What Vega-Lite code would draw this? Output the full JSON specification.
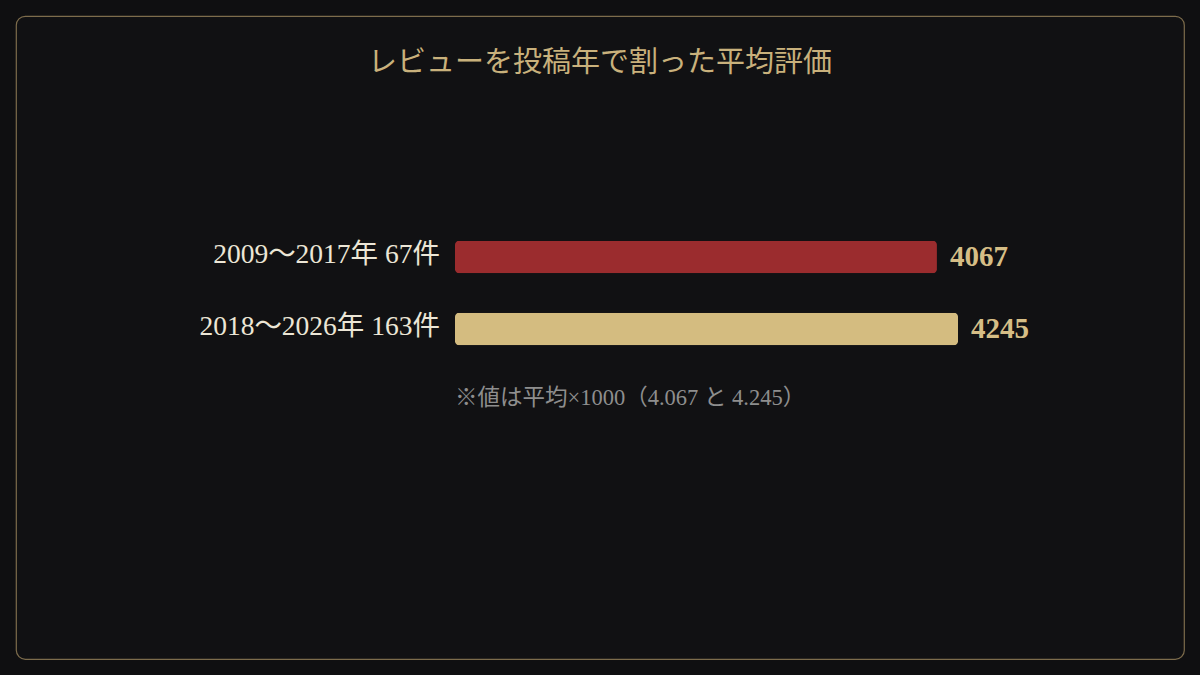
{
  "$schema": "https://vega.github.io/schema/vega-lite/v6.json",
  "autosize": "none",
  "padding": 16,
  "width": 1168,
  "height": 643,
  "background": "#0f0f11",
  "config": {
    "view": {"stroke": "#7d6c4c", "strokeWidth": 1.2, "cornerRadius": 9, "fill": "#111113"},
    "text": {"font": "Liberation Serif, Noto Sans CJK JP"}
  },
  "title": {
    "text": "レビューを投稿年で割った平均評価",
    "anchor": "middle",
    "orient": "top",
    "offset": -62,
    "font": "Liberation Serif, Noto Sans CJK JP",
    "fontSize": 29,
    "fontWeight": "normal",
    "color": "#c9b17c"
  },
  "data": {
    "values": [
      {"period": "2009～2017年 67件", "value": 4067},
      {"period": "2018～2026年 163件", "value": 4245}
    ]
  },
  "encoding": {
    "y": {
      "field": "period",
      "type": "nominal",
      "sort": null,
      "axis": null,
      "scale": {"range": [205, 349], "paddingInner": 0.55, "paddingOuter": 0.275}
    }
  },
  "layer": [
    {
      "mark": {"type": "bar", "cornerRadius": 4},
      "encoding": {
        "x": {
          "field": "value",
          "type": "quantitative",
          "axis": null,
          "scale": {"domain": [0, 5000], "range": [439, 1031.5]}
        },
        "color": {
          "field": "period",
          "type": "nominal",
          "legend": null,
          "scale": {"range": ["#9b2c2e", "#d4bc80"]}
        }
      }
    },
    {
      "mark": {"type": "text", "align": "right", "baseline": "middle", "dx": -15, "dy": -2, "fontSize": 27.5, "color": "#ece6d6"},
      "encoding": {
        "x": {"datum": 0, "type": "quantitative"},
        "text": {"field": "period"}
      }
    },
    {
      "mark": {"type": "text", "align": "left", "baseline": "middle", "dx": 13, "fontSize": 29, "fontWeight": "bold", "color": "#d6be86"},
      "encoding": {
        "x": {"field": "value", "type": "quantitative"},
        "text": {"field": "value", "type": "quantitative", "format": "d"}
      }
    },
    {
      "data": {"values": [{"note": "※値は平均×1000（4.067 と 4.245）"}]},
      "mark": {"type": "text", "align": "left", "baseline": "middle", "dy": 69, "fontSize": 22.5, "color": "#8e8e8e"},
      "encoding": {
        "x": {"datum": 0, "type": "quantitative"},
        "y": {"datum": "2018～2026年 163件"},
        "text": {"field": "note"}
      }
    }
  ]
}
